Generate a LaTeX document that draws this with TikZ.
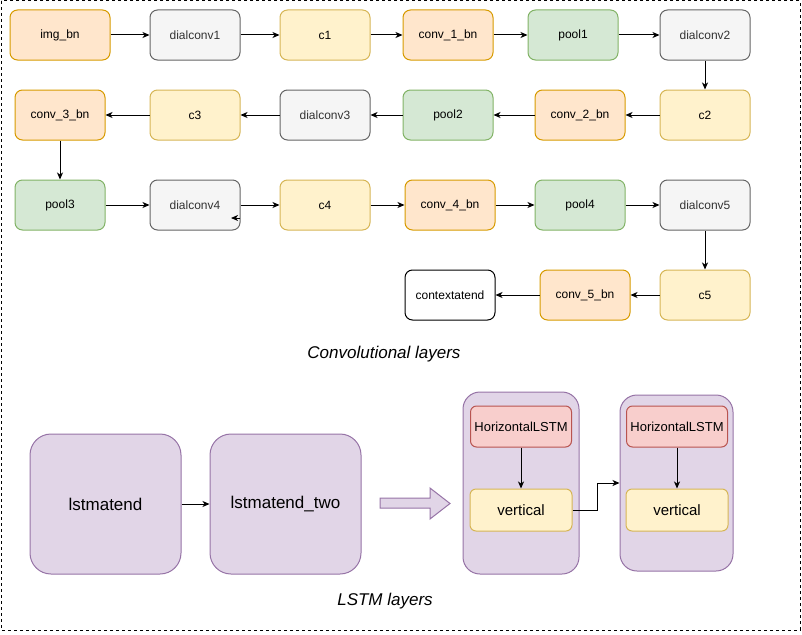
\documentclass[tikz,border=0pt]{standalone}
\usepackage{fontspec}
\setmainfont{Liberation Sans}
\usetikzlibrary{arrows.meta}
\definecolor{bnfill}{HTML}{FFE6CC}
\definecolor{bndraw}{HTML}{D79B00}
\definecolor{dilfill}{HTML}{F5F5F5}
\definecolor{dildraw}{HTML}{666666}
\definecolor{diltext}{HTML}{333333}
\definecolor{cfill}{HTML}{FFF2CC}
\definecolor{cdraw}{HTML}{D6B656}
\definecolor{poolfill}{HTML}{D5E8D4}
\definecolor{pooldraw}{HTML}{82B366}
\definecolor{lstmfill}{HTML}{E1D5E7}
\definecolor{lstmdraw}{HTML}{9673A6}
\definecolor{horfill}{HTML}{F8CECC}
\definecolor{hordraw}{HTML}{B85450}

\begin{document}
\begin{tikzpicture}
  [x=1pt,y=-1pt,line width=1pt,
   box/.style={rectangle,rounded corners=7.5pt,draw,minimum width=90pt,minimum height=50pt,inner sep=0pt,font=\fontsize{12}{14}\selectfont},
   bnbox/.style={box,fill=bnfill,draw=bndraw},
   dilbox/.style={box,fill=dilfill,draw=dildraw,text=diltext},
   cbox/.style={box,fill=cfill,draw=cdraw},
   poolbox/.style={box,fill=poolfill,draw=pooldraw},
   endbox/.style={box,fill=white,draw=black},
   lstmbox/.style={box,fill=lstmfill,draw=lstmdraw,minimum width=151pt,minimum height=140pt,rounded corners=21pt,font=\fontsize{17}{20}\selectfont},
   grpbox/.style={box,fill=lstmfill,draw=lstmdraw,rounded corners=17pt},
   horbox/.style={box,fill=horfill,draw=hordraw,minimum width=101pt,minimum height=41pt,rounded corners=6pt,font=\fontsize{13}{15}\selectfont},
   vertbox/.style={box,fill=cfill,draw=cdraw,minimum width=102pt,minimum height=42pt,rounded corners=6pt,font=\fontsize{15}{18}\selectfont},
   lbl/.style={font=\fontsize{17}{20}\selectfont\itshape},
   arr/.style={-{Stealth[length=7pt,width=6pt,inset=2pt]}}]
  \useasboundingbox (0,0) rectangle (802,634);
  \draw[dash pattern=on 3pt off 3pt] (1,1) rectangle (800,630);

  % convolutional part
  \node[bnbox,minimum width=100pt] (imgbn) at (60,35) {img\_bn};
  \node[dilbox] (dial1) at (195,35) {dialconv1};
  \node[cbox] (c1) at (325,35) {c1};
  \node[bnbox] (conv1bn) at (448,35) {conv\_1\_bn};
  \node[poolbox] (pool1) at (573,35) {pool1};
  \node[dilbox] (dial2) at (705,35) {dialconv2};

  \node[bnbox] (conv3bn) at (60,115) {conv\_3\_bn};
  \node[cbox] (c3) at (195,115) {c3};
  \node[dilbox] (dial3) at (325,115) {dialconv3};
  \node[poolbox] (pool2) at (448,115) {pool2};
  \node[bnbox] (conv2bn) at (580,115) {conv\_2\_bn};
  \node[cbox] (c2) at (705,115) {c2};

  \node[poolbox] (pool3) at (60,205) {pool3};
  \node[dilbox] (dial4) at (195,205) {dialconv4};
  \node[cbox] (c4) at (325,205) {c4};
  \node[bnbox] (conv4bn) at (450,205) {conv\_4\_bn};
  \node[poolbox] (pool4) at (580,205) {pool4};
  \node[dilbox] (dial5) at (705,205) {dialconv5};

  \node[endbox] (ctxend) at (450,295) {contextatend};
  \node[bnbox] (conv5bn) at (585,295) {conv\_5\_bn};
  \node[cbox] (c5) at (705,295) {c5};

  \node[lbl] (convlbl) at (384,354) {Convolutional layers};

  % lstm part
  \node[lstmbox] (lstm1) at (105.5,504) {lstmatend};
  \node[lstmbox] (lstm2) at (285.5,504) {lstmatend\_two};
  \draw[fill=lstmfill,draw=lstmdraw] (380,498) -- (430,498) -- (430,488) -- (450,503.5)
    -- (430,519) -- (430,508) -- (380,508) -- cycle;

  \node[grpbox,minimum width=116pt,minimum height=182pt] (grp1) at (521,483) {};
  \node[grpbox,minimum width=113pt,minimum height=176pt] (grp2) at (676.5,483) {};
  \node[horbox] (hor1) at (521,426.5) {HorizontalLSTM};
  \node[vertbox] (vert1) at (521,510) {vertical};
  \node[horbox] (hor2) at (677,426.5) {HorizontalLSTM};
  \node[vertbox] (vert2) at (677,510) {vertical};

  \node[lbl] (lstmlbl) at (385,601) {LSTM layers};

  \foreach \from/\to in {imgbn/dial1,dial1/c1,c1/conv1bn,conv1bn/pool1,pool1/dial2,dial2/c2,
      c2/conv2bn,conv2bn/pool2,pool2/dial3,dial3/c3,c3/conv3bn,conv3bn/pool3,
      pool3/dial4,dial4/c4,c4/conv4bn,conv4bn/pool4,pool4/dial5,dial5/c5,
      c5/conv5bn,conv5bn/ctxend,lstm1/lstm2,hor1/vert1,hor2/vert2}
    \draw[arr] (\from) -- (\to);

  \draw[arr] (vert1.east) -- ([xshift=25pt]vert1.east) |- (grp2.west);

  % stray tip on dialconv4
  \coordinate (d4a) at (240,218);
  \coordinate (d4b) at (231,218);
  \draw[arr] (d4a) -- (d4b);
\end{tikzpicture}
\end{document}
